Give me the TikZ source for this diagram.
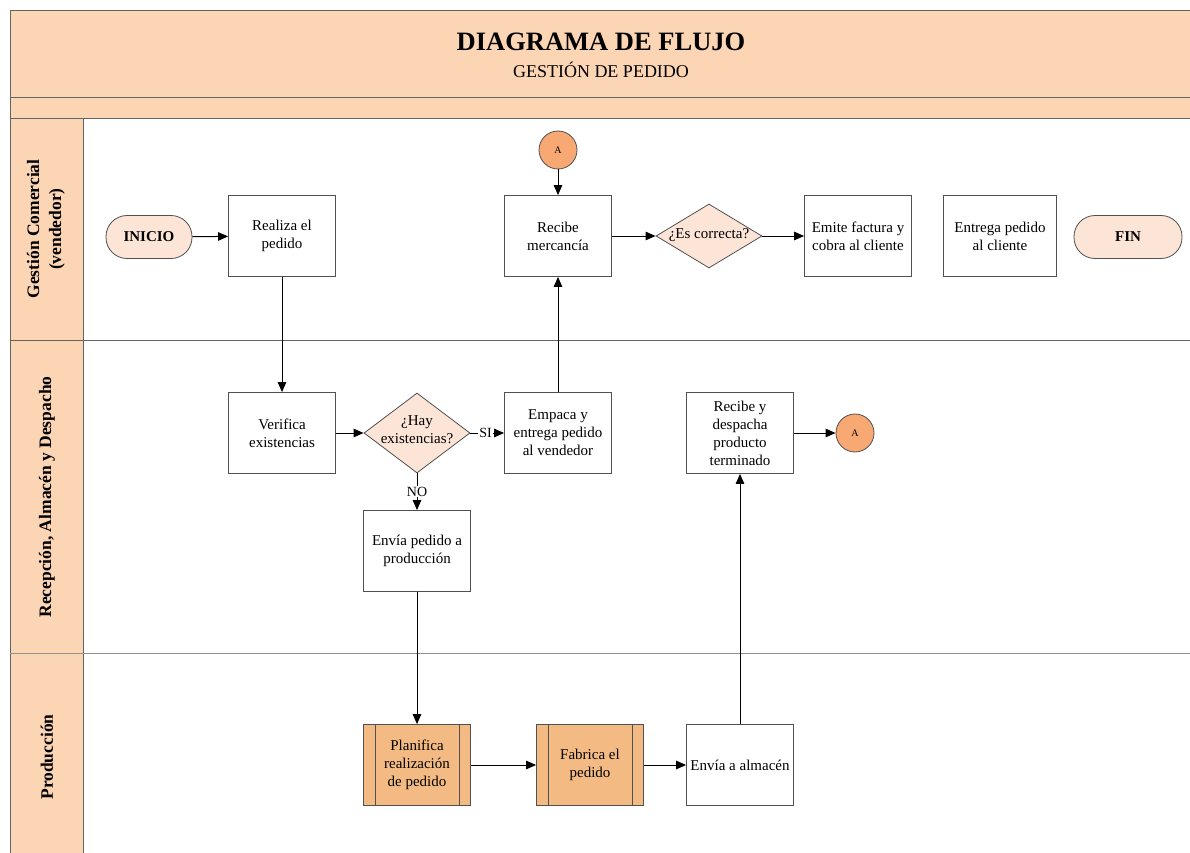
\documentclass[tikz,border=0pt]{standalone}
\usepackage{fontspec}
\setmainfont{Liberation Serif}
\usetikzlibrary{arrows.meta,shapes.geometric}

\definecolor{hdrfill}{RGB}{252,213,181}
\definecolor{termfill}{RGB}{252,229,215}
\definecolor{connfill}{RGB}{248,168,114}
\definecolor{subfill}{RGB}{244,186,132}
\definecolor{edge}{RGB}{80,80,80}
\definecolor{lane}{RGB}{100,100,100}

\tikzset{
  every node/.style={font=\fontsize{15}{18}\selectfont, align=center, text=black},
  procbox/.style={draw=edge, line width=0.8pt, fill=white, minimum width=107pt, minimum height=81pt, inner sep=2pt},
  subproc/.style={procbox, fill=subfill},
  terminal/.style={draw=edge, line width=0.8pt, fill=termfill, rounded corners=21pt, minimum width=86pt, minimum height=43pt, font=\fontsize{15}{18}\selectfont\bfseries},
  % the diamond is sized explicitly; its question is set as a centred label
  decision/.style={draw=edge, line width=0.8pt, fill=termfill, diamond, minimum width=106pt, minimum height=80pt, inner sep=0pt},
  offpage/.style={draw=edge, line width=0.8pt, fill=connfill, circle, minimum size=38pt, inner sep=0pt, font=\fontsize{10}{12}\selectfont},
  flow/.style={draw=black, line width=1pt, -{Triangle[length=10pt,width=8.5pt]}},
  lanelabel/.style={rotate=90, font=\fontsize{17.5}{22}\selectfont\bfseries},
  flowlabel/.style={fill=white, inner sep=1pt, font=\fontsize{14}{16}\selectfont}
}

\begin{document}
\begin{tikzpicture}[x=1pt, y=-1pt]
  \useasboundingbox (0,0) rectangle (1190,853);

  % swimlane frame
  \fill[hdrfill] (10,10) rectangle (1190,118);
  \fill[hdrfill] (10,118) rectangle (83,853);
  \draw[lane, line width=0.9pt] (1190,10) -- (10,10) -- (10,853);
  \draw[lane, line width=0.9pt] (10,97) -- (1190,97);
  \draw[lane, line width=0.9pt] (10,118) -- (1190,118);
  \draw[lane, line width=0.9pt] (83,118) -- (83,853);
  \draw[lane, line width=0.9pt] (10,340) -- (1190,340);
  \draw[lane!70, line width=0.9pt] (10,653) -- (1190,653);

  % title block
  \node (title) at (601,42) {\fontsize{26.5}{29}\selectfont\bfseries DIAGRAMA DE FLUJO};
  \node (subtitle) at (601,70) {\fontsize{18}{21}\selectfont GESTIÓN DE PEDIDO};

  % lane captions
  \node[lanelabel] (l1) at (46,229) {Gestión Comercial\\(vendedor)};
  \node[lanelabel] (l2) at (47,497) {Recepción, Almacén y Despacho};
  \node[lanelabel] (l3) at (47,757) {Producción};

  % lane 1: sales
  \node[terminal] (inicio) at (149,237) {INICIO};
  \node[procbox] (realiza) at (282,236) {Realiza el\\pedido};
  \node[offpage] (a1) at (558,150) {A};
  \node[procbox] (recibe) at (558,236) {Recibe\\mercancía};
  \node[decision, minimum height=64pt] (correcta) at (709,236) {};
  \node (correctatxt) at (709,235) {¿Es correcta?};
  \node[procbox] (emite) at (858,236) {Emite factura y\\cobra al cliente};
  \node[procbox, minimum width=113pt] (entrega) at (1000,236) {Entrega pedido\\al cliente};
  \node[terminal, minimum width=108pt] (fin) at (1128,237) {FIN};

  % lane 2: warehouse
  \node[procbox] (verifica) at (282,433) {Verifica\\existencias};
  \node[decision] (hay) at (417,433) {};
  \node (haytxt) at (417,430) {¿Hay\\existencias?};
  \node[procbox] (empaca) at (558,433) {Empaca y\\entrega pedido\\al vendedor};
  \node[procbox] (despacha) at (740,433) {Recibe y\\despacha\\producto\\terminado};
  \node[offpage] (a2) at (855,433) {A};
  \node[procbox] (envia) at (417,551) {Envía pedido a\\producción};

  % lane 3: production
  \node[subproc] (planifica) at (417,765) {Planifica\\realización\\de pedido};
  \node[subproc] (fabrica) at (590,765) {Fabrica el\\pedido};
  \node[procbox] (almacen) at (740,765) {Envía a almacén};
  \foreach \n in {planifica,fabrica}{
    \draw[edge, line width=0.8pt] ([xshift=12pt]\n.north west) -- ([xshift=12pt]\n.south west);
    \draw[edge, line width=0.8pt] ([xshift=-12pt]\n.north east) -- ([xshift=-12pt]\n.south east);
  }

  % flow
  \draw[flow] (inicio) -- (realiza);
  \draw[flow] (realiza) -- (verifica);
  \draw[flow] (verifica) -- (hay);
  \draw[flow] (hay.east) -- node[flowlabel, pos=0.45] {SI} (empaca);
  \draw[flow] (hay.south) -- node[flowlabel, pos=0.5] {NO} (envia);
  \draw[flow] (envia) -- (planifica);
  \draw[flow] (planifica) -- (fabrica);
  \draw[flow] (fabrica) -- (almacen);
  \draw[flow] (almacen) -- (despacha);
  \draw[flow] (despacha) -- (a2);
  \draw[flow] (a1) -- (recibe);
  \draw[flow] (empaca) -- (recibe);
  \draw[flow] (recibe) -- (correcta);
  \draw[flow] (correcta) -- (emite);
\end{tikzpicture}
\end{document}
